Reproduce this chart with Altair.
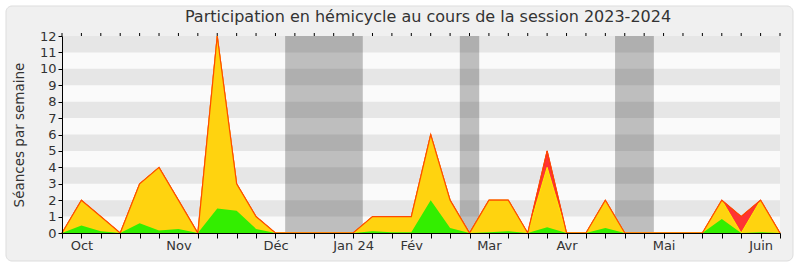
import altair as alt
import pandas as pd

# Weekly data (week index 0..37)
weeks = list(range(38))
total = [0, 2, 1, 0, 3, 4, 2, 0, 12, 3, 1, 0, 0, 0, 0, 0, 1, 1, 1, 6, 2, 0, 2, 2, 0, 5, 0, 0, 2, 0, 0, 0, 0, 0, 2, 1, 2, 0]
presence = [0, 2, 1, 0, 3, 4, 2, 0, 12, 3, 1, 0, 0, 0, 0, 0, 1, 1, 1, 6, 2, 0, 2, 2, 0, 4, 0, 0, 2, 0, 0, 0, 0, 0, 2, 0, 2, 0]
interventions = [0, 0.45, 0.1, 0, 0.6, 0.15, 0.25, 0, 1.5, 1.35, 0.25, 0, 0, 0, 0, 0, 0.1, 0.05, 0.05, 2, 0.3, 0, 0.05, 0.1, 0, 0.35, 0, 0, 0.3, 0, 0, 0, 0, 0, 0.85, 0, 0.05, 0]

month_weeks = [1, 6, 11, 15, 18, 22, 26, 31, 36]
month_labels = ["Oct", "Nov", "Déc", "Jan 24", "Fév", "Mar", "Avr", "Mai", "Juin"]

vac_start = [11.5, 20.5, 28.5]
vac_end = [15.5, 21.5, 30.5]

band_lo = [1, 3, 5, 7, 9, 11]
band_hi = [2, 4, 6, 8, 10, 12]

df = pd.DataFrame({"week": weeks, "total": total, "presence": presence, "green": interventions})
vac = pd.DataFrame({"a": vac_start, "b": vac_end})
bands = pd.DataFrame({"lo": band_lo, "hi": band_hi})

FONT = "DejaVu Sans"
W, H = 718, 197

label_expr = ""
for w, l in zip(month_weeks, month_labels):
    label_expr += f"datum.value == {w} ? '{l}' : "
label_expr += "''"

xscale = alt.Scale(domain=[0, 37], nice=False, zero=False)
yscale = alt.Scale(domain=[0, 12], nice=False)

x_axis = alt.Axis(
    values=weeks, labelExpr=label_expr, title=None, grid=False, zindex=2,
    domainColor="#000000", tickColor="#000000", tickSize=5,
    labelFont=FONT, labelFontSize=13, labelColor="#333333",
    labelOverlap=False, labelFlush=False, labelPadding=1,
)
y_axis = alt.Axis(
    values=list(range(13)), title="Séances par semaine", grid=False, zindex=2,
    domainColor="#000000", tickColor="#000000", tickSize=4,
    labelFont=FONT, labelFontSize=13, labelColor="#333333",
    titleFont=FONT, titleFontSize=13.5, titleColor="#333333", titleFontWeight="normal",
    titlePadding=13, labelPadding=2,
)

bg = alt.Chart(pd.DataFrame({"k": [0]})).mark_rect(
    fill="#f0f0f0", stroke="#dddddd", strokeWidth=1, cornerRadius=6
).encode(x=alt.value(-56), x2=alt.value(731), y=alt.value(-30), y2=alt.value(225))

plot_bg = alt.Chart(pd.DataFrame({"k": [0]})).mark_rect(fill="#fafafa").encode(
    x=alt.value(0), x2=alt.value(W), y=alt.value(0), y2=alt.value(H)
)

band_chart = alt.Chart(bands).mark_rect(color="#e6e6e6").encode(
    y=alt.Y("lo:Q", scale=yscale, axis=y_axis),
    y2="hi:Q",
    x=alt.value(0), x2=alt.value(W),
)

vac_chart = alt.Chart(vac).mark_rect(color="#000000", opacity=0.24).encode(
    x=alt.X("a:Q", scale=xscale, axis=x_axis),
    x2="b:Q",
    y=alt.value(0), y2=alt.value(H),
)

base = alt.Chart(df)
X = alt.X("week:Q", scale=xscale, axis=x_axis)

red_area = base.mark_area(color="#ff3333", stroke="#ee1111", strokeWidth=1).encode(
    x=X, y=alt.Y("total:Q", scale=yscale, axis=y_axis),
)
yellow_area = base.mark_area(color="#ffd30f", stroke="#ffee00", strokeWidth=1).encode(
    x=X, y=alt.Y("presence:Q", scale=yscale, axis=y_axis),
)
green_area = base.mark_area(color="#33ee00").encode(
    x=X, y=alt.Y("green:Q", scale=yscale, axis=y_axis),
)
top_line = base.mark_line(color="#ff4a00", strokeWidth=1.2).encode(
    x=X, y=alt.Y("total:Q", scale=yscale, axis=y_axis),
)
top_ticks = base.mark_rule(color="#000000", strokeWidth=1).encode(
    x=X, y=alt.value(-3), y2=alt.value(0),
)

chart = alt.layer(
    bg, plot_bg, band_chart, vac_chart, red_area, yellow_area, green_area, top_line, top_ticks
).properties(
    width=W, height=H,
    title=alt.TitleParams(
        "Participation en hémicycle au cours de la session 2023-2024",
        font=FONT, fontSize=16, fontWeight="normal", color="#333333",
        anchor="middle", offset=-19, dx=7,
    ),
    autosize=alt.AutoSizeParams(type="none"),
    padding={"left": 62, "top": 36, "right": 20, "bottom": 34},
    background="#ffffff",
).configure_view(stroke=None)

chart.save("out.html", embed_options={"renderer": "svg", "actions": False})
